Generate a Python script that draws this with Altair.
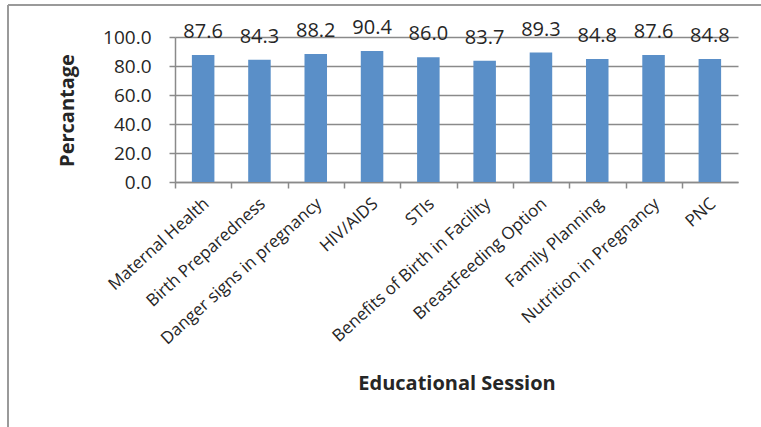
import altair as alt
import pandas as pd

# Share of respondents reached by each educational session
sessions = [
    "Maternal Health",
    "Birth Preparedness",
    "Danger signs in pregnancy",
    "HIV/AIDS",
    "STIs",
    "Benefits of Birth in Facility",
    "BreastFeeding Option",
    "Family Planning",
    "Nutrition in Pregnancy",
    "PNC",
]
percentages = [87.6, 84.3, 88.2, 90.4, 86.0, 83.7, 89.3, 84.8, 87.6, 84.8]
y_ticks = [0, 20, 40, 60, 80, 100]

df = pd.DataFrame({"session": sessions, "pct": percentages})

W, H = 563, 145
LEFT, TOP = 175, 37
FONT = "Open Sans"
GRID = "#8a8a8a"
TEXT = "#262626"

x_enc = alt.X(
    "session:N",
    sort=sessions,
    scale=alt.Scale(paddingInner=0.6, paddingOuter=0.3),
    axis=alt.Axis(
        title="Educational Session",
        titleFont=FONT,
        titleFontSize=20,
        titleFontWeight="bold",
        titleColor=TEXT,
        titleY=201,
        titleBaseline="middle",
        labelAngle=-42,
        labelAlign="right",
        labelBaseline="middle",
        labelFont=FONT,
        labelFontSize=17,
        labelColor=TEXT,
        labelPadding=13,
        labelOffset=31,
        labelOverlap=False,
        labelLimit=400,
        tickOffset=-28,
        tickSize=6,
        tickColor=GRID,
        tickWidth=1.5,
        domainColor=GRID,
        domainWidth=1.5,
        grid=False,
    ),
)

y_enc = alt.Y(
    "pct:Q",
    scale=alt.Scale(domain=[0, 100], nice=False),
    axis=alt.Axis(
        title="Percantage",
        titleFont=FONT,
        titleFontSize=20,
        titleFontWeight="bold",
        titleColor=TEXT,
        titleX=-108,
        titleY=73,
        titleAlign="center",
        titleBaseline="middle",
        values=y_ticks,
        tickCount=6,
        format=".1f",
        labelFont=FONT,
        labelFontSize=19,
        labelColor=TEXT,
        labelPadding=18,
        labelOverlap=False,
        labelFlush=False,
        tickSize=6,
        tickColor=GRID,
        tickWidth=1.5,
        domainColor=GRID,
        domainWidth=1.5,
        gridColor=GRID,
        gridWidth=1.5,
    ),
)

base = alt.Chart(df).encode(x=x_enc, y=y_enc)

bars = base.mark_bar(color="#5A8FC8")

labels = base.mark_text(
    font=FONT, fontSize=20, color=TEXT, dy=-23, baseline="middle"
).encode(text=alt.Text("pct:Q", format=".1f"))

# Outer frame of the chart box (left and top edges)
frame_left = alt.Chart(df).mark_rule(color="#9a9a9a", strokeWidth=1.5).encode(
    x=alt.value(8 - LEFT), y=alt.value(5 - TOP), y2=alt.value(427 - TOP)
)
frame_top = alt.Chart(df).mark_rule(color="#9a9a9a", strokeWidth=1.5).encode(
    x=alt.value(8 - LEFT), x2=alt.value(761 - LEFT), y=alt.value(5 - TOP)
)

chart = (
    alt.layer(bars, labels, frame_left, frame_top)
    .properties(
        width=W,
        height=H,
        autosize=alt.AutoSizeParams(type="none"),
        padding={"left": LEFT, "top": TOP, "right": 761 - LEFT - W, "bottom": 427 - TOP - H},
        background="white",
    )
    .configure_view(stroke=None)
)

chart.save("out.html", embed_options={"renderer": "svg", "actions": False})
